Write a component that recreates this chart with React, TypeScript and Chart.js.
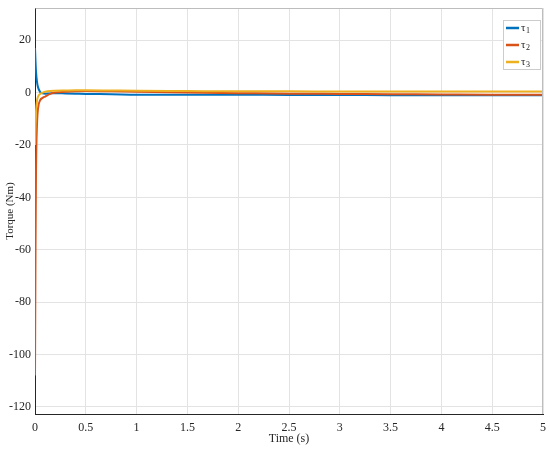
import React, { useEffect, useRef } from "react";
import { Chart, registerables } from "chart.js";

Chart.register(...registerables);

const time = [0, 0.005, 0.01, 0.02, 0.03, 0.05, 0.075, 0.1, 0.15, 0.2, 0.3, 0.4, 0.5, 0.75, 1, 1.5, 2, 2.5, 3, 3.5, 4, 4.5, 5];
const tau1 = [17, 12, 8, 4, 2, 0.3, -0.3, -0.4, -0.3, -0.2, -0.3, -0.4, -0.5, -0.6, -0.8, -0.8, -0.8, -0.9, -0.9, -1, -1, -1, -1];
const tau2 = [-108, -60, -30, -12, -6, -3, -2, -1.5, -0.5, 0, 0.3, 0.5, 0.6, 0.5, 0.3, 0, -0.2, -0.4, -0.5, -0.6, -0.7, -0.8, -0.8];
const tau3 = [-20, -12, -7, -3, -1.5, -0.5, 0, 0.3, 0.6, 0.7, 0.8, 0.9, 0.9, 0.8, 0.7, 0.6, 0.5, 0.5, 0.4, 0.4, 0.4, 0.4, 0.4];
const seriesNames = ["τ", "τ", "τ"];
const seriesSubs = ["1", "2", "3"];
const colors = ["#0072BD", "#D95319", "#EDB120"];
const xTicks = [0, 0.5, 1, 1.5, 2, 2.5, 3, 3.5, 4, 4.5, 5];
const yTicks = [-120, -100, -80, -60, -40, -20, 0, 20];
const FONT = "'Liberation Serif', 'Times New Roman', serif";

const boxPlugin = {
  id: "boxAndLegend",
  afterDraw(chart: any) {
    const { ctx, chartArea: a } = chart;
    ctx.save();
    ctx.lineWidth = 1;
    ctx.beginPath();
    ctx.moveTo(a.left + 0.5, a.top + 0.5);
    ctx.lineTo(a.right - 0.5, a.top + 0.5);
    ctx.lineTo(a.right - 0.5, a.bottom);
    ctx.strokeStyle = "#bdbdbd";
    ctx.stroke();
    // legend
    const bx = a.right - 40, by = a.top + 12, bw = 37, bh = 49;
    ctx.fillStyle = "#fff";
    ctx.fillRect(bx, by, bw, bh);
    ctx.strokeStyle = "#cccccc";
    ctx.strokeRect(bx + 0.5, by + 0.5, bw, bh);
    [tau1, tau2, tau3].forEach((_, i) => {
      const y = by + 8 + i * 17;
      ctx.strokeStyle = colors[i];
      ctx.lineWidth = 2.5;
      ctx.beginPath();
      ctx.moveTo(bx + 3, y);
      ctx.lineTo(bx + 16, y);
      ctx.stroke();
      ctx.fillStyle = "#262626";
      ctx.textBaseline = "middle";
      ctx.textAlign = "left";
      ctx.font = `11px ${FONT}`;
      ctx.fillText(seriesNames[i], bx + 18, y);
      ctx.font = `8px ${FONT}`;
      ctx.fillText(seriesSubs[i], bx + 23, y + 3);
    });
    ctx.restore();
  },
};

export default function App() {
  const ref = useRef<HTMLCanvasElement>(null);
  useEffect(() => {
    document.body.style.margin = "0";
    const mk = (d: number[]) => time.map((t, i) => ({ x: t, y: d[i] }));
    const chart = new Chart(ref.current!, {
      type: "line",
      data: {
        datasets: [tau1, tau2, tau3].map((d, i) => ({
          label: seriesNames[i] + seriesSubs[i],
          data: mk(d),
          borderColor: colors[i],
          backgroundColor: colors[i],
          borderWidth: 2,
          pointRadius: 0,
          tension: 0.3,
          cubicInterpolationMode: "monotone" as const,
          order: 3 - i,
        })),
      },
      options: {
        animation: false,
        responsive: false,
        layout: { padding: { top: 8, right: 7, left: 0, bottom: 0 } },
        plugins: { legend: { display: false }, tooltip: { enabled: false } },
        scales: {
          x: {
            type: "linear",
            min: 0,
            max: 5,
            afterBuildTicks: (s: any) => { s.ticks = xTicks.map((v) => ({ value: v })); },
            afterFit: (s: any) => { s.height = 41; s.paddingLeft = 0; s.paddingRight = 0; },
            grid: { color: "#e3e3e3", drawTicks: false },
            border: { color: "#262626" },
            ticks: { color: "#262626", padding: 7, maxRotation: 0, font: { family: FONT, size: 12 }, callback: (v: any) => String(v) },
            title: { display: true, text: "Time (s)", color: "#262626", padding: { top: 0, bottom: 9 }, font: { family: FONT, size: 12 } },
          },
          y: {
            type: "linear",
            min: -122.7,
            max: 32.3,
            afterBuildTicks: (s: any) => { s.ticks = yTicks.map((v) => ({ value: v })); },
            afterFit: (s: any) => { s.width = 35; s.paddingTop = 0; s.paddingBottom = 0; },
            grid: { color: "#e3e3e3", drawTicks: false },
            border: { color: "#262626" },
            ticks: { color: "#262626", padding: 4, font: { family: FONT, size: 12 }, callback: (v: any) => String(v) },
            title: { display: true, text: "Torque (Nm)", color: "#262626", padding: { top: 4, bottom: 0 }, font: { family: FONT, size: 11 } },
          },
        },
      },
      plugins: [boxPlugin],
    });
    return () => chart.destroy();
  }, []);
  return (
    <div style={{ width: 550, height: 455, background: "#fff" }}>
      <canvas ref={ref} width={550} height={455} />
    </div>
  );
}
